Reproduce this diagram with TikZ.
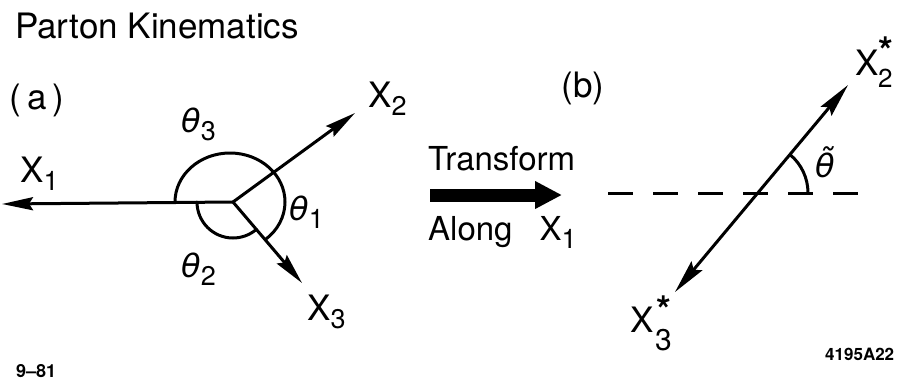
\documentclass[tikz,border=0pt]{standalone}
\usepackage{fontspec}
\setmainfont{TeX Gyre Heros}
\newfontfamily\grk{DejaVu Sans}
\usetikzlibrary{arrows.meta}
\newcommand\lsub[1]{\raisebox{-8pt}{\fontsize{27}{27}\selectfont #1}}
\newcommand\mytheta{{\grk\itshape θ}}
\tikzset{
  ln/.style={line width=3pt, line cap=round},
  arr/.style={ln, -{Stealth[length=31pt,width=13pt,inset=4pt]}},
  arrb/.style={ln, {Stealth[length=34pt,width=14pt,inset=5pt]}-{Stealth[length=34pt,width=14pt,inset=5pt]}},
  lbl/.style={inner sep=0pt, anchor=base west, font=\fontsize{35}{40}\selectfont},
  starl/.style={inner sep=0pt, anchor=base west, font=\bfseries\fontsize{38}{40}\selectfont},
  thl/.style={inner sep=0pt, anchor=base west, font=\fontsize{32}{36}\selectfont},
}
\begin{document}
\begin{tikzpicture}[x=1pt,y=1pt]
\useasboundingbox (0,0) rectangle (904,-381);
% title
\node[lbl] (title) at (15,-38) {Parton Kinematics};
% ---------- (a)
\node[inner sep=0pt, font=\fontsize{35}{40}\selectfont] (la) at (37,-100) {(\,a\,)};
\coordinate (O) at (233,-202);
\coordinate (t1) at (2,-204);
\coordinate (t2) at (355,-113);
\coordinate (t3) at (302,-283);
\draw[arr] (O) -- (t1);
\draw[arr] (O) -- (t2);
\draw[arr] (O) -- (t3);
\draw[ln] (175,-202) arc[start angle=180, end angle=-50, x radius=55, y radius=49];
\draw[ln] ([shift={(180:36)}]O) arc[start angle=180, end angle=310, radius=36];
\node[lbl] (x1) at (20,-182) {X\lsub{1}};
\node[lbl] (x2) at (368,-107) {X\lsub{2}};
\node[lbl] (x3) at (307,-320) {X\lsub{3}};
\node[thl] (th3) at (181,-132) {\mytheta\lsub{3}};
\node[thl] (th1) at (289,-220) {\mytheta\lsub{1}};
\node[thl] (th2) at (181,-277) {\mytheta\lsub{2}};
% ---------- transform arrow
\node[inner sep=0pt, anchor=base west, font=\fontsize{33}{38}\selectfont] (tr) at (428,-170) {Transform};
\node[inner sep=0pt, anchor=base west, font=\fontsize{33}{38}\selectfont] (al) at (428,-240) {Along\hspace{27pt}X\lsub{1}};
\coordinate (ta) at (430,-195);
\coordinate (tb) at (562,-195);
\draw[line width=13pt, -{Triangle[length=27pt,width=26pt]}] (ta) -- (tb);
% ---------- (b)
\node[inner sep=0pt, font=\fontsize{35}{40}\selectfont] (lb) at (583,-88) {(b)};
\coordinate (d1) at (608,-193);
\coordinate (d2) at (862,-193);
\draw[line width=3pt, dash pattern=on 25pt off 20pt] (d1) -- (d2);
\coordinate (C) at (758,-193);
\coordinate (s2) at (848,-85);
\coordinate (s3) at (675,-292);
\draw[arrb] (s3) -- (s2);
\draw[ln] ([shift={(0:50)}]C) arc[start angle=0, end angle=50, radius=50];
\node[thl] (tht) at (815,-177) {\grk\itshape θ̃};
\node[lbl] (x2s) at (855,-75) {X};
\node[inner sep=0pt, anchor=base west, font=\fontsize{26}{28}\selectfont] (x2sub) at (878,-87) {2};
\node[starl] (x2star) at (878,-64) {*};
\node[lbl] (x3s) at (630,-332) {X};
\node[inner sep=0pt, anchor=base west, font=\fontsize{30}{32}\selectfont] (x3sub) at (655,-350) {3};
\node[starl] (x3star) at (656,-323) {*};
% ---------- footers
\node[inner sep=0pt, anchor=base west, font=\bfseries\fontsize{18}{20}\selectfont] (date) at (16,-377) {9--81};
\node[inner sep=0pt, anchor=base west, font=\bfseries\fontsize{17}{20}\selectfont] (code) at (825,-360) {4195A22};
\end{tikzpicture}
\end{document}
